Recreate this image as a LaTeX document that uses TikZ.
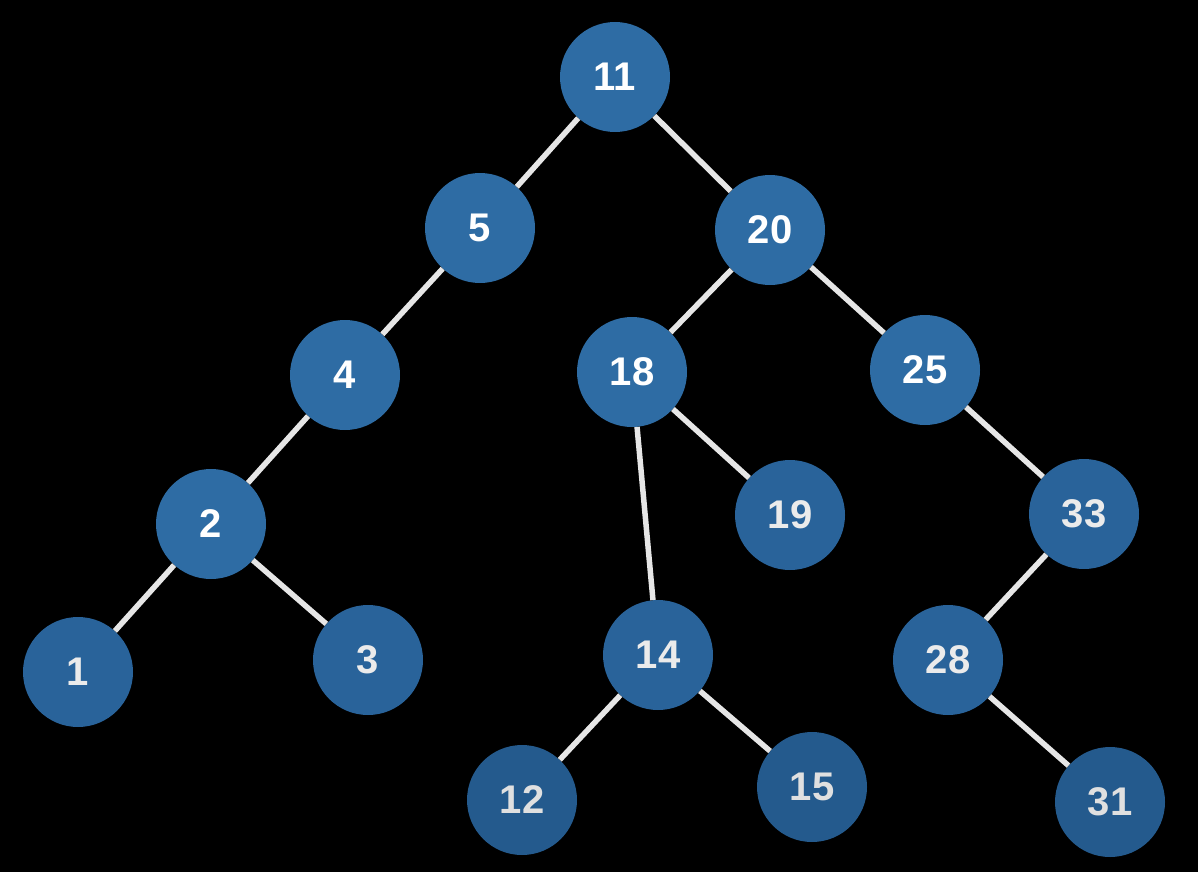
\documentclass[tikz,border=0pt]{standalone}
\usepackage{fontspec}
\setmainfont{Liberation Sans}
\definecolor{nb1}{HTML}{2E6CA4}
\definecolor{nb2}{HTML}{29639A}
\definecolor{nb3}{HTML}{245A8D}
\definecolor{edgec}{HTML}{E6E6E6}
\tikzset{
  tn/.style={circle, minimum size=110pt, inner sep=0pt, fill=nb1, text=white, font=\fontsize{40}{40}\selectfont\bfseries},
  tnb/.style={tn, fill=nb2, text=white!92!black},
  tnc/.style={tn, fill=nb3, text=white!88!black},
  edge/.style={draw=edgec, line width=5.5pt}
}
\begin{document}
\begin{tikzpicture}[x=1pt,y=-1pt]
\fill[black] (0,0) rectangle (1198,872);
\useasboundingbox (0,0) rectangle (1198,872);
\node[tn] (n11) at (615,77) {11};
\node[tn] (n5) at (480,228) {5};
\node[tn] (n20) at (770,230) {20};
\node[tn] (n4) at (345,375) {4};
\node[tn] (n18) at (632,372) {18};
\node[tn] (n25) at (925,370) {25};
\node[tn] (n2) at (211,524) {2};
\node[tnb] (n19) at (790,515) {19};
\node[tnb] (n33) at (1084,514) {33};
\node[tnb] (n1) at (78,672) {1};
\node[tnb] (n3) at (368,660) {3};
\node[tnb] (n14) at (658,655) {14};
\node[tnb] (n28) at (948,660) {28};
\node[tnc] (n12) at (522,800) {12};
\node[tnc] (n15) at (812,787) {15};
\node[tnc] (n31) at (1110,802) {31};
\draw[edge] (n11) -- (n5);
\draw[edge] (n11) -- (n20);
\draw[edge] (n5) -- (n4);
\draw[edge] (n4) -- (n2);
\draw[edge] (n2) -- (n1);
\draw[edge] (n2) -- (n3);
\draw[edge] (n20) -- (n18);
\draw[edge] (n20) -- (n25);
\draw[edge] (n18) -- (n14);
\draw[edge] (n18) -- (n19);
\draw[edge] (n14) -- (n12);
\draw[edge] (n14) -- (n15);
\draw[edge] (n25) -- (n33);
\draw[edge] (n33) -- (n28);
\draw[edge] (n28) -- (n31);
\end{tikzpicture}
\end{document}
